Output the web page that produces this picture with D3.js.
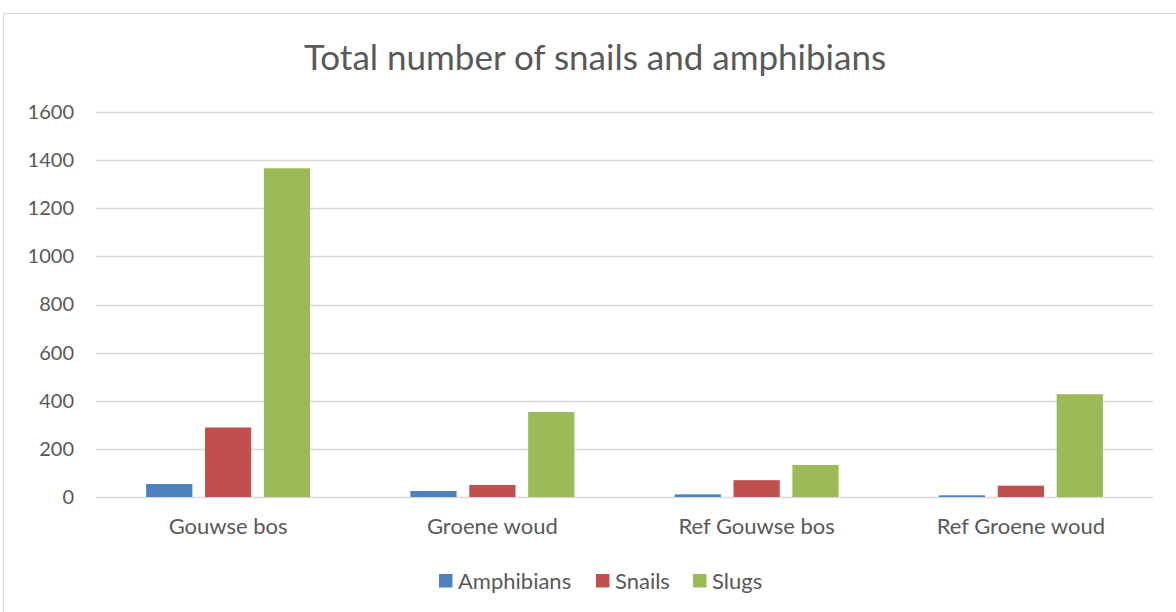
<!DOCTYPE html>
<html>
<head>
<meta charset="utf-8">
<script src="https://cdn.jsdelivr.net/npm/d3@7"></script>
<style>
  html, body { margin: 0; padding: 0; background: #fff; }
  svg { display: block; font-family: Lato, "Open Sans", sans-serif; }
</style>
</head>
<body>
<svg id="chart" width="1176" height="612"></svg>
<script>
// Sites, series and counts
const categories = ["Gouwse bos", "Groene woud", "Ref Gouwse bos", "Ref Groene woud"];
const seriesNames = ["Amphibians", "Snails", "Slugs"];
const amphibians = [54, 25, 11, 7];
const snails = [289, 50, 70, 47];
const slugs = [1366, 353, 133, 427];
const yTicks = [0, 200, 400, 600, 800, 1000, 1200, 1400, 1600];
const colors = ["#4F81BD", "#C0504D", "#9BBB59"];

const seriesValues = [amphibians, snails, slugs];
const rows = categories.map((c, i) => ({
  category: c,
  values: seriesNames.map((s, k) => ({ series: s, value: seriesValues[k][i] }))
}));

const svg = d3.select("#chart");
const W = 1176, H = 612;
const margin = { left: 96, right: 23, top: 112, bottom: 115 };
const groupWidth = 164;

// Outer chart frame
svg.append("rect")
  .attr("x", 3.5).attr("y", 13.5)
  .attr("width", W + 10).attr("height", H + 10)
  .attr("fill", "#fff").attr("stroke", "#D9D9D9").attr("stroke-width", 1);

const x = d3.scaleBand().domain(categories)
  .range([margin.left, W - margin.right]).paddingInner(0).paddingOuter(0);
const x1 = d3.scaleBand().domain(seriesNames)
  .range([0, groupWidth]).paddingInner(0.215).paddingOuter(0);
const y = d3.scaleLinear().domain([0, 1600]).range([H - margin.bottom, margin.top]);

// Gridlines
svg.append("g")
  .selectAll("line").data(yTicks).join("line")
  .attr("x1", margin.left).attr("x2", W - margin.right)
  .attr("y1", d => Math.round(y(d)) + 0.5).attr("y2", d => Math.round(y(d)) + 0.5)
  .attr("stroke", "#D9D9D9").attr("stroke-width", 1.3);

// Y axis labels
const yAxis = d3.axisLeft(y).tickValues(yTicks).tickFormat(d3.format("d")).tickSize(0).tickPadding(0);
const yg = svg.append("g").attr("transform", `translate(${margin.left - 22},0)`).call(yAxis);
yg.select(".domain").remove();
yg.selectAll("text").attr("font-size", 20).attr("fill", "#595959")
  .attr("font-family", "Lato, sans-serif");

// Bars
const groups = svg.append("g").selectAll("g").data(rows).join("g")
  .attr("transform", d => `translate(${x(d.category) + (x.bandwidth() - groupWidth) / 2},0)`);
groups.selectAll("rect").data(d => d.values).join("rect")
  .attr("x", d => x1(d.series))
  .attr("width", x1.bandwidth())
  .attr("y", d => y(d.value))
  .attr("height", d => y(0) - y(d.value))
  .attr("fill", (d, i) => colors[i]);

// Category axis labels
const xAxis = d3.axisBottom(x).tickSize(0).tickPadding(0);
const xg = svg.append("g").attr("transform", `translate(0,${y(0) + 21})`).call(xAxis);
xg.select(".domain").remove();
xg.selectAll("text").attr("font-size", 22).attr("fill", "#595959")
  .attr("font-family", "Lato, sans-serif").attr("dy", "0.71em");

// Title
svg.append("text")
  .attr("x", 595).attr("y", 70)
  .attr("text-anchor", "middle")
  .attr("font-size", 35).attr("fill", "#595959")
  .text("Total number of snails and amphibians");

// Legend
const legendX = [439, 596, 693];
const legend = svg.append("g").selectAll("g").data(seriesNames).join("g")
  .attr("transform", (d, i) => `translate(${legendX[i]},574)`);
legend.append("rect").attr("width", 13.5).attr("height", 13.5)
  .attr("fill", (d, i) => colors[i]);
legend.append("text").attr("x", 19).attr("y", 15)
  .attr("font-size", 22).attr("fill", "#595959").text(d => d);
</script>
</body>
</html>
